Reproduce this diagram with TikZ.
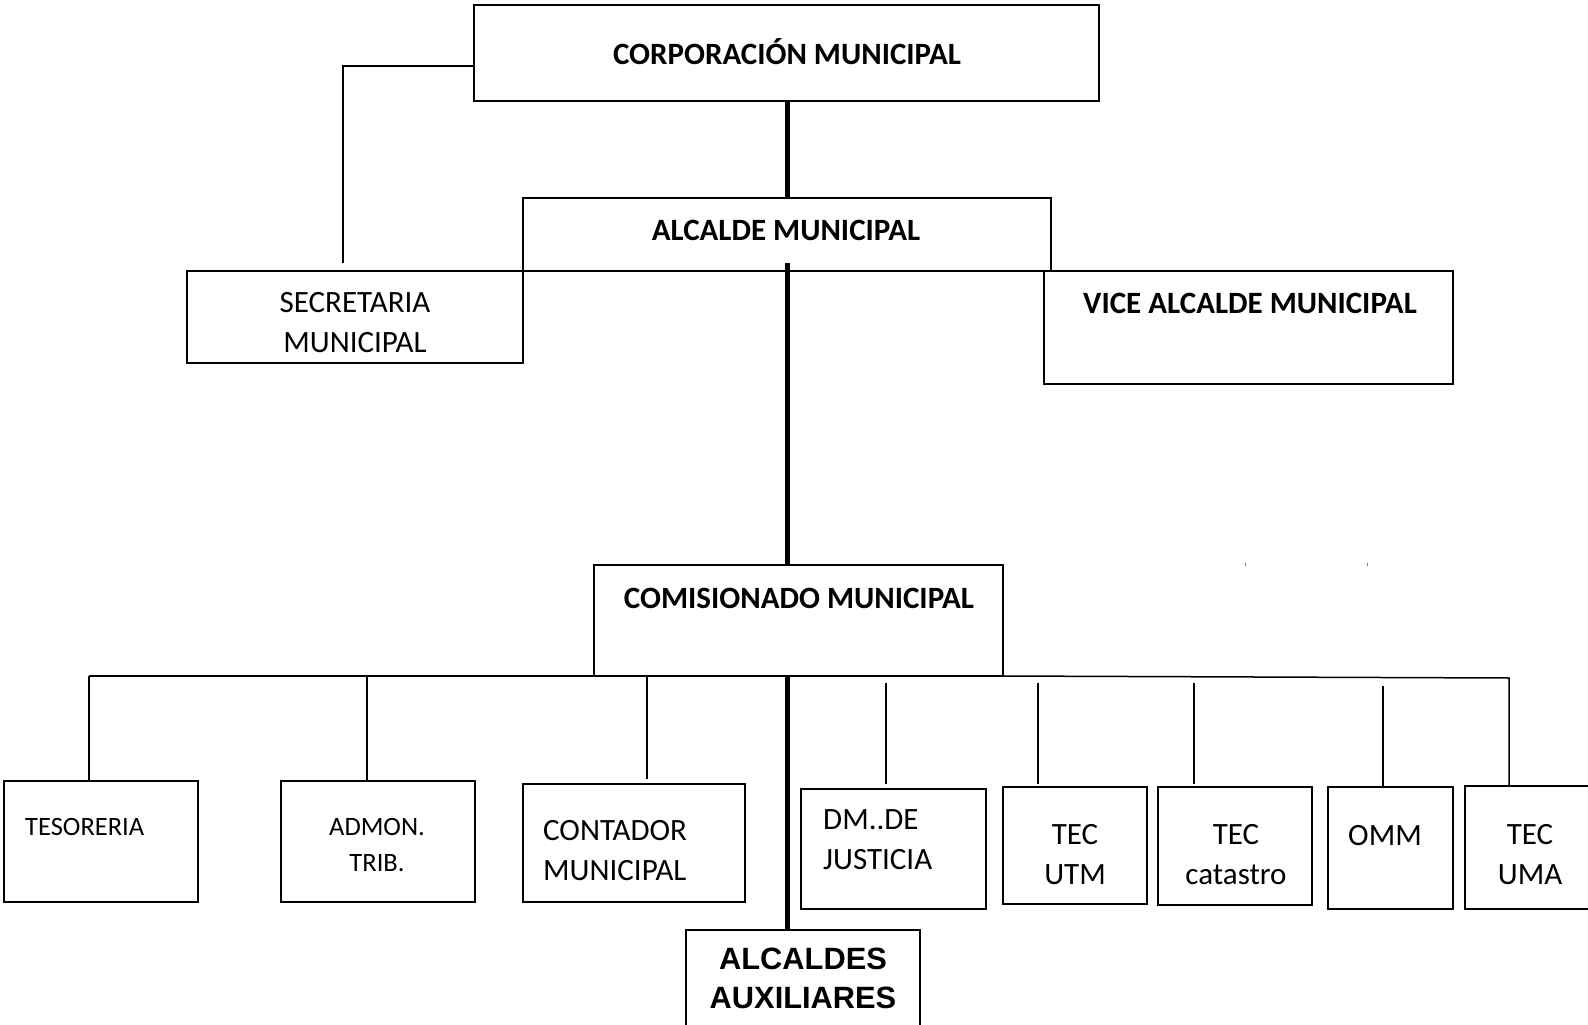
\documentclass[tikz,border=0pt]{standalone}
\usepackage{fontspec}
\setmainfont{Carlito}
\newfontfamily\arialfont{Liberation Sans}
\usetikzlibrary{positioning}

\tikzset{
  box/.style = {draw, line width=1.8pt, inner sep=0pt, outer sep=0pt},
  link/.style = {line width=1.5pt},
  trunk/.style = {line width=5pt},
  head/.style = {font=\bfseries\fontsize{31}{38}\selectfont},
  txt/.style = {font=\fontsize{31}{40}\selectfont, align=center, inner sep=0pt},
  smalltxt/.style = {font=\fontsize{26.5}{36}\selectfont, align=center, inner sep=0pt},
}

\begin{document}
\begin{tikzpicture}[x=1pt, y=-1pt]
	\useasboundingbox (0,0) rectangle (1588,1025);
	
	% boxes
	\node[box, minimum width=625pt, minimum height=96pt] (corp) at (786.5,53) {};
	\node[box, minimum width=528pt, minimum height=73pt] (alc) at (787,234.5) {};
	\node[box, minimum width=336pt, minimum height=92pt] (sec) at (355,317) {};
	\node[box, minimum width=409pt, minimum height=113pt] (vice) at (1248.5,327.5) {};
	\node[box, minimum width=409pt, minimum height=111pt] (com) at (798.5,620.5) {};
	\node[box, minimum width=194pt, minimum height=121pt] (tes) at (101,841.5) {};
	\node[box, minimum width=194pt, minimum height=121pt] (adm) at (378,841.5) {};
	\node[box, minimum width=222pt, minimum height=118pt] (cont) at (634,843) {};
	\node[box, minimum width=234pt, minimum height=120pt] (aux) at (803,990) {};
	\node[box, minimum width=185pt, minimum height=120pt] (dm) at (893.5,849) {};
	\node[box, minimum width=144pt, minimum height=117pt] (utm) at (1075,845.5) {};
	\node[box, minimum width=154pt, minimum height=118pt] (cat) at (1235,846) {};
	\node[box, minimum width=125pt, minimum height=122pt] (omm) at (1390.5,848) {};
	\node[box, minimum width=135pt, minimum height=123pt] (uma) at (1532.5,847.5) {};
	
	% texts
	\node[head] (corpT) at (787,52) {CORPORACIÓN MUNICIPAL};
	\node[head] (alcT) at (786,230) {ALCALDE MUNICIPAL};
	\node[txt] (secT) at (355,323) {SECRETARIA\\MUNICIPAL};
	\node[head] (viceT) at (1250,303) {VICE ALCALDE MUNICIPAL};
	\node[head] (comT) at (799,598) {COMISIONADO MUNICIPAL};
	\node[smalltxt, anchor=west] (tesT) at (25,827) {TESORERIA};
	\node[smalltxt] (admT) at (377,845) {ADMON.\\TRIB.};
	\node[txt, align=left, anchor=west] (contT) at (543,851) {CONTADOR\\MUNICIPAL};
	\node[font=\arialfont\bfseries\fontsize{30.8}{39}\selectfont, align=center, inner sep=0pt] (auxT) at (803,978) {ALCALDES\\AUXILIARES};
	\node[txt, align=left, anchor=west] (dmT) at (823,840) {DM..DE\\JUSTICIA};
	\node[txt] (utmT) at (1075,854.5) {TEC\\UTM};
	\node[txt] (catT) at (1236,854.5) {TEC\\catastro};
	\node[txt] (ommT) at (1385,836) {OMM};
	\node[txt] (umaT) at (1530,854.5) {TEC\\UMA};
	
	% connectors
	\coordinate (secEnd) at (343,263);
	\coordinate (trunkTop) at (787,263);
	\coordinate (busL) at (89,676);
	\coordinate (busR) at (1509,678);
	
	\draw[link] ([yshift=-13pt]corp.west) -| (secEnd);
	\draw[trunk] (corp.south -| trunkTop) -- (alc.north -| trunkTop);
	\draw[trunk] (trunkTop) -- (trunkTop |- com.north);
	\draw[trunk] (trunkTop |- com.south) -- (trunkTop |- aux.north);
	
	\draw[link] (busL) -- (com.south west);
	\draw[link] (com.south east) -- (busR) -- (busR |- uma.north);
	\draw[link] (busL) -- (busL |- tes.north);
	\draw[link] (367,676) -- (367,676 |- adm.north);
	\draw[link, shorten >=5pt] (647,676) -- (647,676 |- cont.north);
	\draw[link, shorten >=5pt] (886,683) -- (886,683 |- dm.north);
	\draw[link, shorten >=3pt] (1038,683) -- (1038,683 |- utm.north);
	\draw[link, shorten >=3pt] (1194,683) -- (1194,683 |- cat.north);
	\draw[link] (1383,686) -- (1383,686 |- omm.north);
	
	% stray marks
	\draw[line width=0.8pt, gray] (1245,563) -- (1245,566);
	\draw[line width=0.8pt, gray] (1367,563) -- (1367,566);
	
\end{tikzpicture}
\end{document}
